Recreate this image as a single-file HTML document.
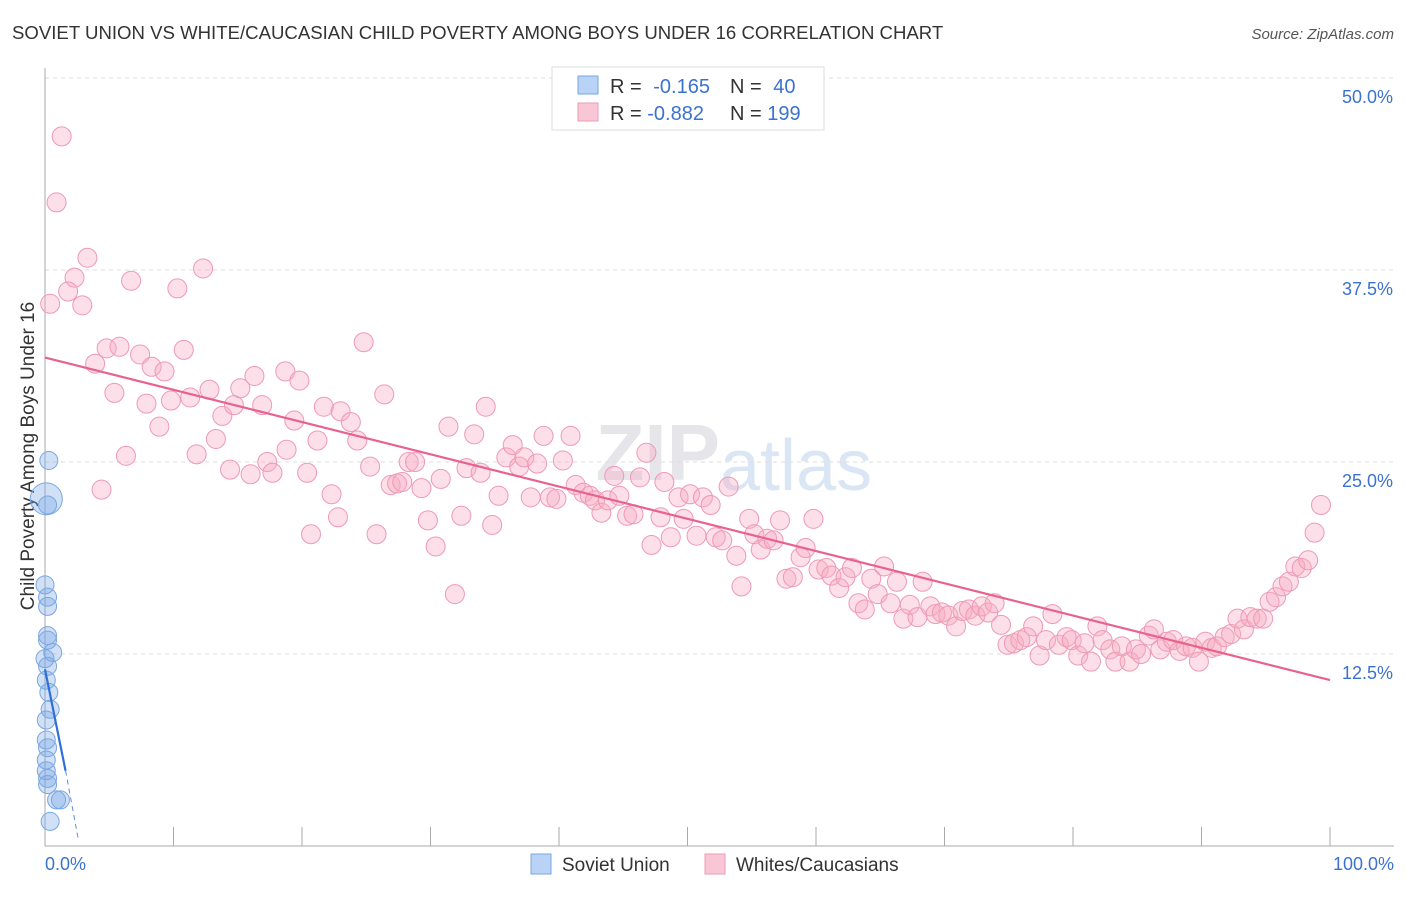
<!DOCTYPE html>
<html><head><meta charset="utf-8"><style>
body{margin:0;background:#fff;font-family:"Liberation Sans",sans-serif}
svg text{font-family:"Liberation Sans",sans-serif}
</style></head><body>
<svg width="1406" height="892" xmlns="http://www.w3.org/2000/svg">
<text x="12" y="39" font-size="18.6" fill="#333">SOVIET UNION VS WHITE/CAUCASIAN CHILD POVERTY AMONG BOYS UNDER 16 CORRELATION CHART</text>
<text x="1394" y="39" font-size="15" fill="#555" font-style="italic" text-anchor="end">Source: ZipAtlas.com</text>
<text x="720" y="480" font-size="80" fill="#e6e6ea" text-anchor="end" font-family="Liberation Serif" font-weight="bold">ZIP</text>
<text x="720" y="490" font-size="72" fill="#dbe6f5">atlas</text>
<g id="grid"></g>
<text transform="translate(34,456) rotate(-90)" font-size="19" fill="#333" text-anchor="middle">Child Poverty Among Boys Under 16</text>
<g id="pink"></g><g id="blue"></g><g id="trend"></g>
<g>
<rect x="552" y="67" width="272" height="63" fill="#fff" stroke="#ddd"/>
<rect x="578" y="76" width="20" height="18" fill="#b8d3f5" stroke="#7aa7e0"/>
<rect x="578" y="103" width="20" height="18" fill="#f9c6d5" stroke="#ee9bb5"/>
<text x="610" y="93" font-size="20" fill="#333">R = <tspan fill="#3b72d0" dx="6">-0.165</tspan></text>
<text x="730" y="93" font-size="20" fill="#333">N = <tspan fill="#3b72d0" dx="6">40</tspan></text>
<text x="610" y="120" font-size="20" fill="#333">R = <tspan fill="#3b72d0">-0.882</tspan></text>
<text x="730" y="120" font-size="20" fill="#333">N = <tspan fill="#3b72d0">199</tspan></text>
</g>
<g>
<rect x="531" y="854" width="20" height="20" fill="#b8d3f5" stroke="#7aa7e0"/>
<text x="562" y="871" font-size="19" fill="#333">Soviet Union</text>
<rect x="705" y="854" width="20" height="20" fill="#f9c6d5" stroke="#ee9bb5"/>
<text x="736" y="871" font-size="19" fill="#333">Whites/Caucasians</text>
</g>
</svg>
<script>
const yTicks=[12.5,25,37.5,50];
const yTickLabels=["12.5%","25.0%","37.5%","50.0%"];
const xTickLabels=["0.0%","100.0%"];
const pinkX=[1.3,0.9,0.4,3.3,2.3,1.8,2.9,6.7,10.3,12.3,3.9,4.8,5.8,7.4,8.3,9.3,10.8,5.4,7.9,8.9,9.8,11.3,12.8,13.8,14.7,15.2,16.3,16.9,18.7,19.8,13.3,11.8,6.3,4.4,14.4,16.0,17.3,17.7,18.8,19.4,20.4,21.2,21.7,22.3,22.8,20.7,23.0,23.8,24.3,24.8,25.3,25.8,26.4,26.9,27.4,27.8,28.3,28.8,29.3,29.8,30.4,30.8,31.4,31.9,32.4,32.8,33.4,33.9,34.3,34.8,35.3,35.9,36.4,36.9,37.3,37.8,38.3,38.8,39.3,39.8,40.3,40.9,41.3,41.9,42.4,42.8,43.3,43.8,44.3,44.7,45.3,45.8,46.3,46.8,47.2,47.9,48.2,48.7,49.3,49.7,50.2,50.7,51.2,51.8,52.2,52.7,53.2,53.8,54.2,54.8,55.2,55.7,56.2,56.7,57.2,57.7,58.2,58.8,59.2,59.8,60.2,60.8,61.2,61.8,62.3,62.8,63.3,63.8,64.3,64.8,65.3,65.8,66.3,66.8,67.3,67.9,68.3,68.9,69.3,69.8,70.3,70.9,71.4,71.9,72.4,72.9,73.4,73.9,74.4,74.9,75.4,75.9,76.4,76.9,77.4,77.9,78.4,78.9,79.5,79.9,80.4,80.9,81.4,81.9,82.3,82.9,83.3,83.8,84.4,84.9,85.3,85.9,86.3,86.8,87.3,87.8,88.3,88.8,89.3,89.8,90.3,90.8,91.2,91.8,92.3,92.8,93.3,93.8,94.3,94.8,95.3,95.8,96.3,96.8,97.3,97.8,98.3,98.8,99.3];
const pinkY=[46.2,41.9,35.3,38.3,37.0,36.1,35.2,36.8,36.3,37.6,31.4,32.4,32.5,32.0,31.2,30.9,32.3,29.5,28.8,27.3,29.0,29.2,29.7,28.0,28.7,29.8,30.6,28.7,30.9,30.3,26.5,25.5,25.4,23.2,24.5,24.2,25.0,24.3,25.8,27.7,24.3,26.4,28.6,22.9,21.4,20.3,28.3,27.6,26.4,32.8,24.7,20.3,29.4,23.5,23.6,23.7,25.0,25.0,23.3,21.2,19.5,23.9,27.3,16.4,21.5,24.6,26.8,24.3,28.6,20.9,22.8,25.3,26.1,24.7,25.3,22.7,24.9,26.7,22.7,22.6,25.1,26.7,23.5,23.0,22.8,22.5,21.7,22.5,24.1,22.8,21.5,21.6,24.0,25.6,19.6,21.4,23.7,20.1,22.7,21.3,22.9,20.2,22.7,22.2,20.1,19.9,23.4,18.9,16.9,21.3,20.3,19.3,20.0,19.9,21.2,17.4,17.5,18.8,19.4,21.3,18.0,18.1,17.6,16.8,17.5,18.1,15.8,15.4,17.4,16.4,18.2,15.8,17.2,14.8,15.7,14.9,17.2,15.6,15.1,15.2,15.0,14.3,15.3,15.4,15.0,15.6,15.2,15.8,14.4,13.1,13.2,13.4,13.6,14.3,12.4,13.4,15.1,13.1,13.6,13.4,12.4,13.2,12.0,14.3,13.4,12.8,12.0,13.0,12.0,12.8,12.5,13.7,14.1,12.8,13.3,13.4,12.7,13.0,12.9,12.0,13.3,12.9,13.0,13.6,13.8,14.8,14.1,14.9,14.8,14.8,15.9,16.2,16.9,17.2,18.2,18.1,18.6,20.4,22.2];
const blueX=[0.3,0.1,0.2,0.0,0.2,0.2,0.2,0.2,0.6,0.0,0.2,0.1,0.3,0.4,0.1,0.1,0.2,0.1,0.1,0.2,0.2,0.9,1.2,0.4];
const blueY=[25.1,22.6,22.2,17.0,16.2,15.6,13.7,13.4,12.6,12.2,11.7,10.8,10.0,8.9,8.2,6.9,6.4,5.6,4.9,4.4,4.0,3.0,3.0,1.6];
const blueR=[9,16,9,9,9,9,9,9,9,9,9,9,9,9,9,9,9,9,9,9,9,9,9,9];
const pinkTrend=[31.8,10.8];
const blueTrend=[11.5,4.9,0.4];
const blueTrendX=[0,1.6,2.6];
const NS="http://www.w3.org/2000/svg";
const X=v=>45+v*12.85, Y=v=>846-v*15.36;
function mk(t,a,p){const e=document.createElementNS(NS,t);for(const k in a)e.setAttribute(k,a[k]);p.appendChild(e);return e;}
const grid=document.getElementById('grid');
yTicks.forEach((t,i)=>{
 const l=mk('line',{x1:45,x2:1394,y1:Y(t),y2:Y(t),stroke:'#ddd','stroke-dasharray':'4,4'},grid);
 
 
 const tx=mk('text',{x:1393,y:Y(t)+25,'font-size':18,fill:'#3b72d0','text-anchor':'end'},grid);
 tx.textContent=yTickLabels[i];
 
 
});
const ax=mk('line',{x1:45,x2:45,y1:68,y2:846,stroke:'#aaa'},grid);


const bx=mk('line',{x1:45,x2:1394,y1:846,y2:846,stroke:'#aaa'},grid);


for(let i=0;i<=10;i++){const t=mk('line',{x1:X(i*10),x2:X(i*10),y1:827,y2:846,stroke:'#aaa'},grid);
 
 }
[[0,'start',45],[100,'end',1394]].forEach((d,i)=>{const t=mk('text',{x:d[2],y:870,'font-size':18,fill:'#3b72d0','text-anchor':d[1]},grid);t.textContent=xTickLabels[i];
 
 });
const pg=document.getElementById('pink');
pinkX.forEach((x,i)=>{const c=mk('circle',{cx:X(x),cy:Y(pinkY[i]),r:9.5,fill:'rgba(248,170,195,0.38)',stroke:'#ee9ab4','stroke-width':1},pg);
 
 });
const bg=document.getElementById('blue');
blueX.forEach((x,i)=>{const c=mk('circle',{cx:X(x),cy:Y(blueY[i]),r:blueR[i],fill:'rgba(120,165,230,0.35)',stroke:'#7aa7e0','stroke-width':1},bg);
 
 });
const tg=document.getElementById('trend');
const pl=mk('line',{x1:X(0),y1:Y(pinkTrend[0]),x2:X(100),y2:Y(pinkTrend[1]),stroke:'#e8628f','stroke-width':2.2},tg);


const bl=mk('line',{x1:X(blueTrendX[0]),y1:Y(blueTrend[0]),x2:X(blueTrendX[1]),y2:Y(blueTrend[1]),stroke:'#2f6fd8','stroke-width':2.2},tg);


const bd=mk('line',{x1:X(blueTrendX[1]),y1:Y(blueTrend[1]),x2:X(blueTrendX[2]),y2:Y(blueTrend[2]),stroke:'#5a8ee0','stroke-width':1,'stroke-dasharray':'5,4'},tg);


</script>
</body></html>
